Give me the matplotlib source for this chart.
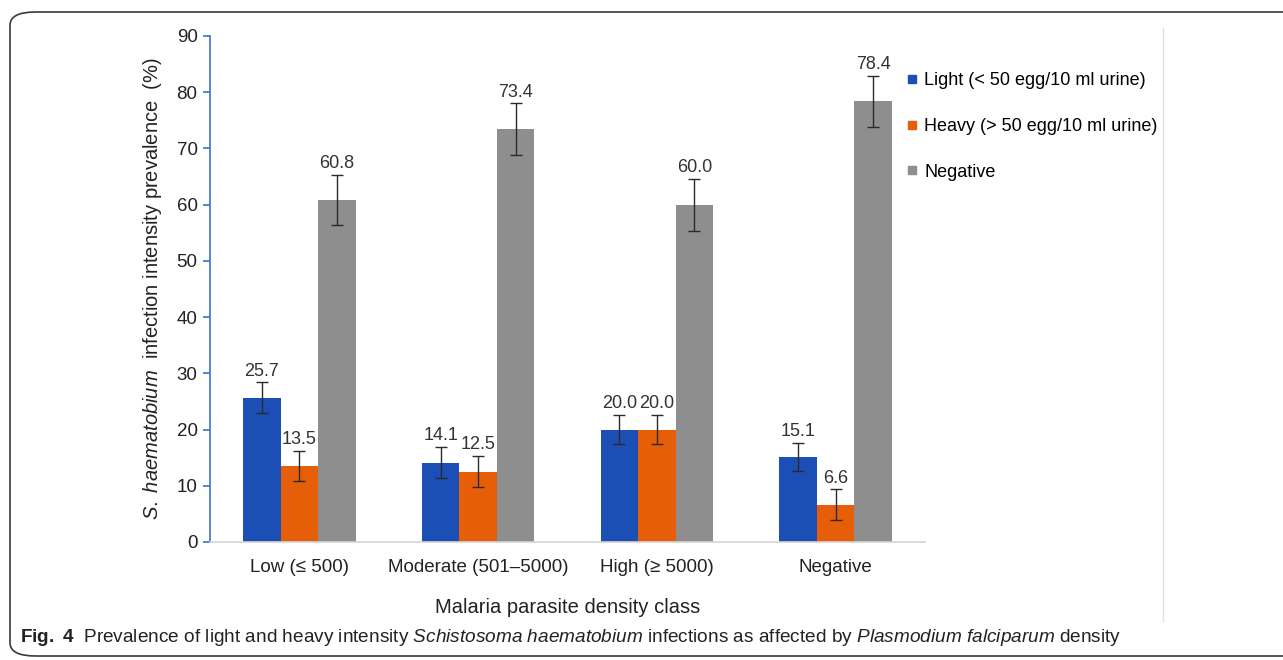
import matplotlib
matplotlib.use("Agg")
import matplotlib.pyplot as plt
from matplotlib import font_manager
import numpy as np
from matplotlib.patches import FancyBboxPatch
from matplotlib.lines import Line2D

plt.rcParams['font.family'] = ['Liberation Sans', 'DejaVu Sans']
plt.rcParams['mathtext.fontset'] = 'custom'
plt.rcParams['mathtext.rm'] = 'Liberation Sans'
plt.rcParams['mathtext.it'] = 'Liberation Sans:italic'
plt.rcParams['mathtext.bf'] = 'Liberation Sans:bold'

categories = ["Low (\u2264 500)", "Moderate (501\u20135000)", "High (\u2265 5000)", "Negative"]
series_names = ["Light (< 50 egg/10 ml urine)", "Heavy (> 50 egg/10 ml urine)", "Negative"]
light = [25.7, 14.1, 20.0, 15.1]
heavy = [13.5, 12.5, 20.0, 6.6]
negative = [60.8, 73.4, 60.0, 78.4]
light_err = [2.7, 2.75, 2.65, 2.55]
heavy_err = [2.7, 2.75, 2.65, 2.75]
negative_err = [4.5, 4.6, 4.6, 4.5]
yticks = [0, 10, 20, 30, 40, 50, 60, 70, 80, 90]

colors = ["#1b4fb5", "#e65f08", "#8e8e8e"]

W, H = 1283, 660
fig = plt.figure(figsize=(W / 100, H / 100), dpi=100)
ax = fig.add_axes([210 / W, 1 - 542 / H, 715 / W, 506 / H])

x = np.arange(len(categories))
bw = 0.21
series = [(light, light_err), (heavy, heavy_err), (negative, negative_err)]
for i, ((vals, errs), c, name) in enumerate(zip(series, colors, series_names)):
    pos = x + (i - 1) * bw
    ax.bar(pos, vals, width=bw, color=c, label=name, zorder=2)
    ax.errorbar(pos, vals, yerr=errs, fmt='none', ecolor='#2a2a2a',
                elinewidth=1.0, capsize=4, capthick=1.0, zorder=3)
    for p, v, e in zip(pos, vals, errs):
        ax.annotate(f"{v:.1f}", (p, v + e), xytext=(0, 2), textcoords='offset points',
                    ha='center', va='bottom', fontsize=13, color='#333333')

ax.set_xlim(-0.5, len(categories) - 0.5)
ax.set_ylim(0, 90)
ax.set_yticks(yticks)
ax.set_xticks(x)
ax.set_xticklabels(categories, fontsize=13.5, color='#222222')
ax.tick_params(axis='x', length=0, pad=12)
ax.tick_params(axis='y', length=5, width=1.2, color='#3a6fd0', labelsize=13.5,
               labelcolor='#222222', pad=4)
for s in ['top', 'right']:
    ax.spines[s].set_visible(False)
ax.spines['left'].set_color('#3a6fd0')
ax.spines['left'].set_linewidth(1.2)
ax.spines['bottom'].set_color('#d4d4d4')
ax.spines['bottom'].set_linewidth(1.2)

ax.set_ylabel(r"$\it{S.\ haematobium}$  infection intensity prevalence  (%)",
              fontsize=14.5, color='#222222', labelpad=9)
ax.set_xlabel("Malaria parasite density class", fontsize=14.5, color='#222222', labelpad=16)

handles = [Line2D([0], [0], marker='s', linestyle='none', markersize=6,
                  markerfacecolor=c, markeredgecolor=c) for c in colors]
fig.legend(handles, series_names, loc='upper left', bbox_to_anchor=(906 / W, 1 - 72 / H),
           frameon=False, fontsize=13, handlelength=0.7, handletextpad=0.3,
           labelspacing=1.6, borderaxespad=0, borderpad=0)

# panel frame and divider
frame = FancyBboxPatch((10 / W, 1 - 656 / H), 1300 / W, 644 / H,
                       boxstyle="round,pad=0,rounding_size=0.02",
                       transform=fig.transFigure, fill=False,
                       edgecolor='#3a3a3a', linewidth=1.2, zorder=0)
fig.add_artist(frame)
fig.add_artist(Line2D([1163 / W, 1163 / W], [1 - 28 / H, 1 - 621 / H],
                      transform=fig.transFigure, color='#e0e0e0', linewidth=1.0))

# caption in a narrow face when one is available
names = {f.name for f in font_manager.fontManager.ttflist}
if 'Liberation Sans Narrow' in names:
    cap_family, cap_size = 'Liberation Sans Narrow', 16
    plt.rcParams['mathtext.it'] = 'Liberation Sans Narrow:italic'
    plt.rcParams['mathtext.bf'] = 'Liberation Sans Narrow:bold'
    plt.rcParams['mathtext.rm'] = 'Liberation Sans Narrow'
else:
    cap_family, cap_size = 'Liberation Sans', 13.7
fig.text(20 / W, 1 - 638 / H,
         r"$\bf{Fig.\ 4}$  Prevalence of light and heavy intensity "
         r"$\it{Schistosoma\ haematobium}$ infections as affected by "
         r"$\it{Plasmodium\ falciparum}$ density",
         fontsize=cap_size, family=cap_family, color='#222222', va='center', ha='left')

fig.savefig("out.png", dpi=100)
